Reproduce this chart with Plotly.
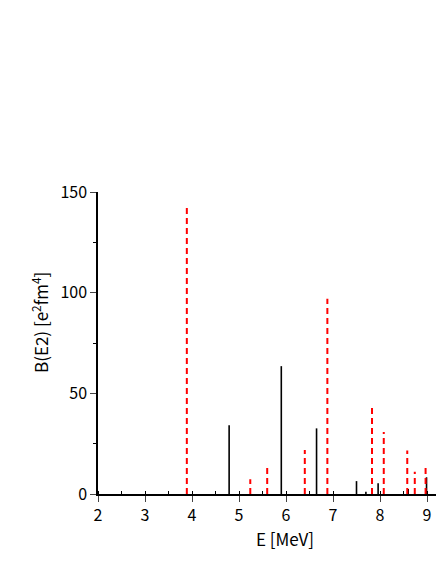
import plotly.graph_objects as go

# black solid sticks
exp_energy = [4.79, 5.90, 6.65, 7.50, 7.70, 7.96, 8.60, 8.99]
exp_be2 = [34.2, 63.5, 32.6, 6.4, 1.1, 5.4, 2.5, 8.3]

# red dashed sticks
calc_energy = [3.89, 5.24, 5.60, 6.40, 6.88, 7.83, 8.08, 8.58, 8.74, 8.97]
calc_be2 = [143.4, 7.3, 14.7, 21.8, 97.0, 43.2, 30.8, 21.6, 11.1, 14.9]

x_ticks = [2, 3, 4, 5, 6, 7, 8, 9]
y_ticks = [0, 50, 100, 150]


def stick_xy(energies, values):
    xs, ys = [], []
    for e, v in zip(energies, values):
        xs += [e, e, None]
        ys += [0, v, None]
    return xs, ys


fig = go.Figure()

x, y = stick_xy(exp_energy, exp_be2)
fig.add_trace(go.Scatter(x=x, y=y, mode='lines',
                         line=dict(color='black', width=1.6), hoverinfo='skip'))

x, y = stick_xy(calc_energy, calc_be2)
fig.add_trace(go.Scatter(x=x, y=y, mode='lines',
                         line=dict(color='red', width=2, dash='6px,4px'), hoverinfo='skip'))

font = dict(family='Noto Sans CJK JP, Liberation Sans, sans-serif', size=16, color='black')

W, H = 436, 564
L, R, T, B = 98, 0, 192, 70
pw, ph = W - L - R, H - T - B

fig.update_layout(
    width=W, height=H,
    margin=dict(l=L, r=R, t=T, b=B),
    plot_bgcolor='white', paper_bgcolor='white',
    showlegend=False,
    font=font,
    xaxis=dict(range=[2, 2 + pw / 47], tickvals=x_ticks, ticks='outside', ticklen=6, tickwidth=1.3,
               showline=True, linecolor='black', linewidth=1.5, showgrid=False, zeroline=False,
               minor=dict(dtick=0.5, ticks='inside', ticklen=3, tickwidth=1.2, tickcolor='black'),
               tickfont=font, ticklabeloverflow='allow'),
    yaxis=dict(range=[0, 150], tickvals=y_ticks, ticks='outside', ticklen=6, tickwidth=1.3,
               showline=True, linecolor='black', linewidth=1.5, showgrid=False, zeroline=False,
               minor=dict(dtick=25, ticks='outside', ticklen=3, tickwidth=1.2, tickcolor='black'),
               tickfont=font),
    annotations=[
        dict(text='E [MeV]', x=5.98, xref='x', y=0, yref='paper', yanchor='middle', yshift=-44,
             showarrow=False, font=dict(font, size=17)),
        dict(text='B(E2) [e<sup>2</sup>fm<sup>4</sup>]', x=(40 - L) / pw, xref='paper',
             xanchor='center', y=(H - B - 323) / ph, yref='paper', yanchor='middle',
             showarrow=False, textangle=-90, font=dict(font, size=17)),
    ],
)

# drop the default page margin so the figure fills the window exactly
fig.write_html("out.html", config={'displayModeBar': False},
               post_script="document.body.style.margin='0';document.body.style.overflow='hidden';")
